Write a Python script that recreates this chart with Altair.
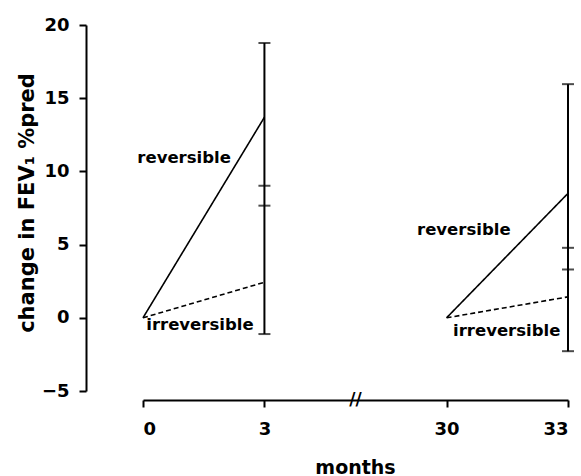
import altair as alt
import pandas as pd

# ---- data ----
months = [0, 3, 30, 33]
period = ["early", "early", "late", "late"]
reversible = [0, 13.7, 0, 8.5]
irreversible = [0, 2.43, 0, 1.43]

bar_months = [3, 3, 33, 33]
bar_series = ["reversible", "irreversible", "reversible", "irreversible"]
bar_lower = [9.02, -1.11, 4.78, -2.28]
bar_upper = [18.77, 7.66, 15.96, 3.30]

label_text = ["reversible", "irreversible", "reversible", "irreversible"]
label_month = [-0.14, 0.08, 29.27, 30.16]
label_y = [10.57, -0.85, 5.65, -1.26]

x_tick_months = [0, 3, 30, 33]
x_tick_labels = ["0", "3", "30", "33"]
y_ticks = [-5, 0, 5, 10, 15, 20]

GAP = 22.5  # months removed by the axis break

POS = f"datum.month <= 3 ? datum.month : datum.month - {GAP}"
tick_pos = [m if m <= 3 else m - GAP for m in x_tick_months]

line_df = pd.DataFrame({
    "month": months * 2,
    "value": reversible + irreversible,
    "series": ["reversible"] * 4 + ["irreversible"] * 4,
    "period": period * 2,
})
bar_df = pd.DataFrame({"month": bar_months, "series": bar_series,
                       "lower": bar_lower, "upper": bar_upper})
lab_df = pd.DataFrame({"month": label_month, "value": label_y, "text": label_text})
brk_df = pd.DataFrame({"pos": [(3 + (30 - GAP)) / 2], "t": ["//"]})

FONT = "DejaVu Sans"
xscale = alt.Scale(domain=[0, 10.5], nice=False, zero=False)
yscale = alt.Scale(domain=[-5, 20], nice=False, zero=False)

label_expr = (
    "[" + ",".join(f"'{l}'" for l in x_tick_labels) + "]"
    + "[indexof([" + ",".join(str(p) for p in tick_pos) + "], datum.value)]"
)

xaxis = alt.Axis(
    values=tick_pos, labelExpr=label_expr, title="months", offset=9,
    domainWidth=2, tickWidth=2, tickSize=7, labelPadding=13,
    titleX=212, titleY=73, titleBaseline="alphabetic", titleAlign="center",
    titleFontSize=19,
)
yaxis = alt.Axis(
    values=y_ticks, title="change in FEV\u2081  %pred", offset=57,
    domainWidth=2, tickWidth=2, tickSize=7, labelPadding=10,
    titleX=-53, titleY=177.5, titleAngle=270, titleBaseline="alphabetic",
    titleAlign="center", titleFontSize=21,
)

lines = alt.Chart(line_df).transform_calculate(pos=POS).mark_line(
    color="black", strokeWidth=1.6
).encode(
    x=alt.X("pos:Q", scale=xscale, axis=xaxis),
    y=alt.Y("value:Q", scale=yscale, axis=yaxis),
    strokeDash=alt.StrokeDash("series:N", scale=alt.Scale(
        domain=["reversible", "irreversible"], range=[[1, 0], [5, 3]]), legend=None),
    detail="period:N",
)

rules = alt.Chart(bar_df).transform_calculate(pos=POS).transform_aggregate(
    lo="min(lower)", hi="max(upper)", groupby=["pos"]
).mark_rule(color="black", strokeWidth=2).encode(
    x=alt.X("pos:Q", scale=xscale), y=alt.Y("lo:Q", scale=yscale), y2="hi:Q"
)

caps = alt.Chart(bar_df).transform_calculate(pos=POS).transform_fold(
    ["lower", "upper"], as_=["bound", "val"]
).mark_tick(color="black", orient="horizontal", size=12, thickness=2).encode(
    x=alt.X("pos:Q", scale=xscale), y=alt.Y("val:Q", scale=yscale)
)

labels = alt.Chart(lab_df).transform_calculate(pos=POS).mark_text(
    align="left", baseline="alphabetic", font=FONT, fontWeight="bold",
    fontSize=16.5, color="black"
).encode(
    x=alt.X("pos:Q", scale=xscale), y=alt.Y("value:Q", scale=yscale), text="text:N"
)

brk = alt.Chart(brk_df).mark_text(
    font=FONT, fontSize=17, fontWeight="bold", color="black", baseline="middle"
).encode(
    x=alt.X("pos:Q", scale=xscale), y=alt.value(375), text="t:N"
)

chart = alt.layer(lines, rules, caps, labels, brk).properties(
    width=425, height=366, autosize="none",
    padding={"left": 143, "top": 25, "right": 13, "bottom": 85},
).configure_view(stroke=None).configure_axis(
    grid=False, labelFont=FONT, labelFontWeight="bold", labelFontSize=18,
    titleFont=FONT, titleFontWeight="bold", labelColor="black",
    titleColor="black", domainColor="black", tickColor="black",
)

chart.save("out.html", embed_options={"renderer": "svg", "actions": False})
